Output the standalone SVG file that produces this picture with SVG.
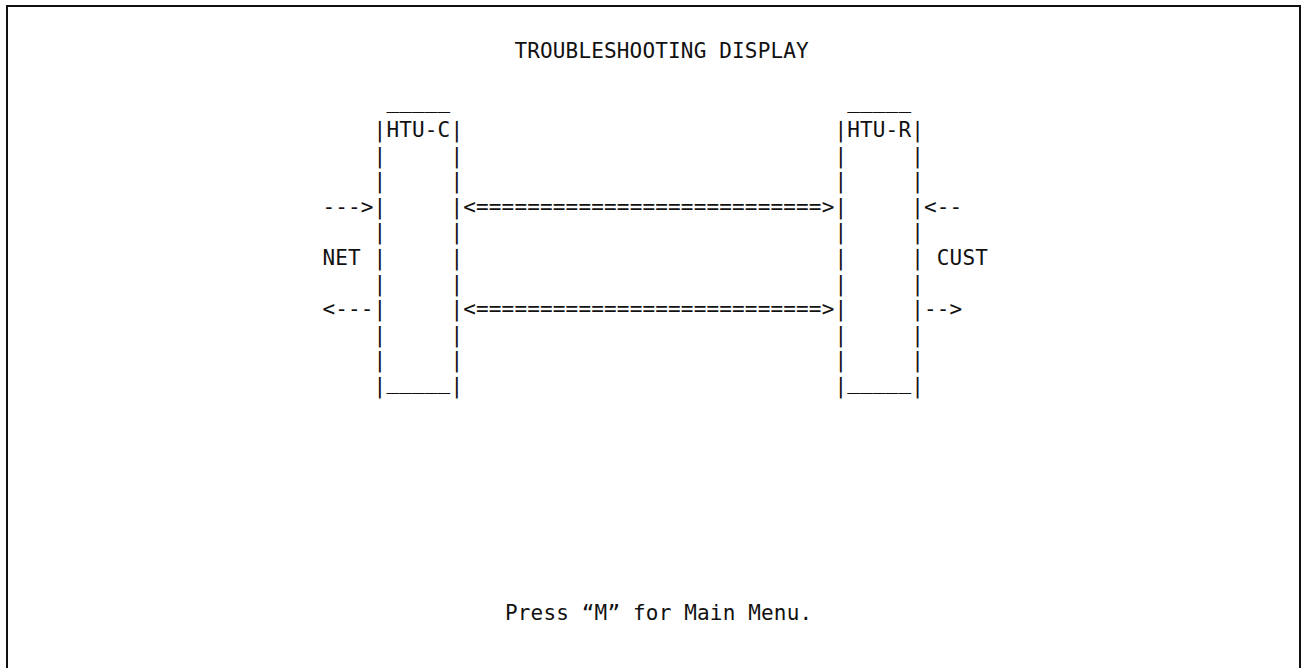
<svg xmlns="http://www.w3.org/2000/svg" width="1301" height="668" viewBox="0 0 1301 668" xml:space="preserve">
<style>
text{font-family:"DejaVu Sans Mono","Liberation Mono",monospace;font-size:21px;letter-spacing:0.16px;fill:#111;white-space:pre}
.frame{fill:none;stroke:#111;stroke-width:2}
</style>
<rect width="1301" height="668" fill="#fff"/>
<rect class="frame" x="7" y="6" width="1293" height="700"/>
<text x="514.4" y="58">TROUBLESHOOTING DISPLAY</text>
<g id="htu-c">
<text x="386.4" y="107.8">_____</text>
<text x="373.6" y="137">|HTU-C|</text>
<text x="373.6" y="162.6">|     |</text>
<text x="373.6" y="188.2">|     |</text>
<text x="373.6" y="213.8">|     |</text>
<text x="373.6" y="239.4">|     |</text>
<text x="373.6" y="265">|     |</text>
<text x="373.6" y="290.6">|     |</text>
<text x="373.6" y="316.2">|     |</text>
<text x="373.6" y="341.8">|     |</text>
<text x="373.6" y="367.4">|     |</text>
<text x="373.6" y="393">|</text>
<text x="386.4" y="388.8">_____</text>
<text x="450.4" y="393">|</text>
</g>
<g id="htu-r">
<text x="847.2" y="107.8">_____</text>
<text x="834.4" y="137">|HTU-R|</text>
<text x="834.4" y="162.6">|     |</text>
<text x="834.4" y="188.2">|     |</text>
<text x="834.4" y="213.8">|     |</text>
<text x="834.4" y="239.4">|     |</text>
<text x="834.4" y="265">|     |</text>
<text x="834.4" y="290.6">|     |</text>
<text x="834.4" y="316.2">|     |</text>
<text x="834.4" y="341.8">|     |</text>
<text x="834.4" y="367.4">|     |</text>
<text x="834.4" y="393">|</text>
<text x="847.2" y="388.8">_____</text>
<text x="911.2" y="393">|</text>
</g>
<g id="net">
<text x="322.4" y="265">NET</text>
</g>
<g id="cust">
<text x="936.8" y="265">CUST</text>
</g>
<g id="connectors">
<text x="322.4" y="213.8">---&gt;</text>
<text x="322.4" y="316.2">&lt;---</text>
<text x="463.2" y="213.8">&lt;===========================&gt;</text>
<text x="463.2" y="316.2">&lt;===========================&gt;</text>
<text x="924" y="213.8">&lt;--</text>
<text x="924" y="316.2">--&gt;</text>
</g>
<text x="505" y="620">Press “M” for Main Menu.</text>
</svg>
